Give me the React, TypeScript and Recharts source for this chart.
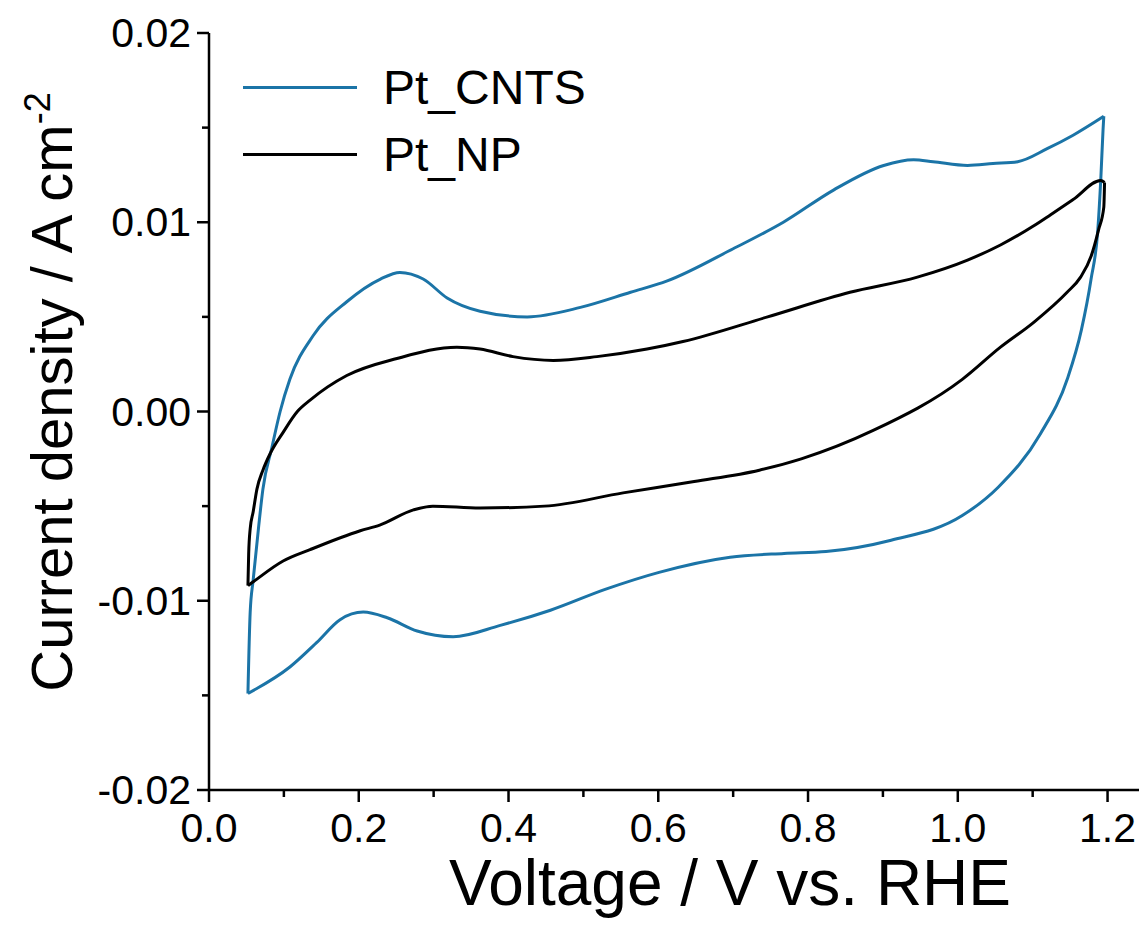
import React from "react";
import { LineChart, Line, XAxis, YAxis, Legend } from "recharts";

// Pt_CNTS: anodic sweep (0.05 -> 1.2 V) and cathodic sweep (1.2 -> 0.05 V)
const cntsAnodicV = [
	0.052, 0.055, 0.059, 0.066, 0.072, 0.084, 0.095, 0.108, 0.139, 0.184, 0.229, 0.255, 0.286, 0.318,
	0.362, 0.425, 0.496, 0.563, 0.612, 0.7, 0.767, 0.834, 0.901, 0.941, 0.967, 1.013, 1.047, 1.08,
	1.12, 1.154, 1.195,
];
const cntsAnodicJ = [
	-0.0149, -0.0106, -0.0089, -0.0062, -0.0041, -0.0019, 0.0, 0.0017, 0.004, 0.0058, 0.007, 0.00735,
	0.007, 0.006, 0.0053, 0.005, 0.0055, 0.0063, 0.0069, 0.0086, 0.01, 0.0117, 0.013, 0.0133, 0.0132,
	0.013, 0.0131, 0.0132, 0.0139, 0.0146, 0.0156,
];
const cntsCathodicV = [
	1.195, 1.194, 1.191, 1.187, 1.178, 1.165, 1.147, 1.11, 1.054, 1.006, 0.911, 0.824, 0.768, 0.696,
	0.601, 0.529, 0.456, 0.389, 0.326, 0.278, 0.238, 0.206, 0.175, 0.144, 0.108, 0.052,
];
const cntsCathodicJ = [
	0.0156, 0.0149, 0.0123, 0.0096, 0.007, 0.0043, 0.0018, -0.0012, -0.004, -0.0055, -0.0068, -0.0074,
	-0.0075, -0.0077, -0.0085, -0.0094, -0.0105, -0.0113, -0.0119, -0.0116, -0.0109, -0.0106, -0.011,
	-0.0122, -0.0135, -0.0149,
];

// Pt_NP
const npAnodicV = [
	0.052, 0.053, 0.055, 0.059, 0.064, 0.072, 0.082, 0.099, 0.118, 0.135, 0.184, 0.251, 0.331, 0.362,
	0.406, 0.46, 0.518, 0.585, 0.633, 0.746, 0.856, 0.946, 1.013, 1.057, 1.101, 1.124, 1.154, 1.191,
	1.196,
];
const npAnodicJ = [
	-0.0092, -0.0075, -0.0062, -0.0053, -0.0041, -0.0031, -0.0022, -0.0011, 0.0, 0.0006, 0.0019,
	0.0028, 0.0034, 0.0033, 0.0029, 0.0027, 0.0029, 0.0033, 0.0037, 0.005, 0.0063, 0.0071, 0.008,
	0.0088, 0.0098, 0.0104, 0.0112, 0.0122, 0.0121,
];
const npCathodicV = [
	1.196, 1.195, 1.188, 1.178, 1.164, 1.146, 1.101, 1.057, 1.006, 0.887, 0.791, 0.735, 0.648, 0.553,
	0.448, 0.362, 0.299, 0.273, 0.228, 0.202, 0.135, 0.099, 0.059, 0.052,
];
const npCathodicJ = [
	0.0121, 0.0108, 0.0096, 0.0082, 0.0071, 0.0063, 0.0047, 0.0034, 0.0017, -0.001, -0.0025, -0.0031,
	-0.0037, -0.0043, -0.005, -0.0051, -0.005, -0.0052, -0.006, -0.0063, -0.0073, -0.0079, -0.009,
	-0.0092,
];

const xTicks = [0, 0.1, 0.2, 0.3, 0.4, 0.5, 0.6, 0.7, 0.8, 0.9, 1.0, 1.1, 1.2];
const yTicks = [-0.02, -0.015, -0.01, -0.005, 0, 0.005, 0.01, 0.015, 0.02];

const seriesNames = ["Pt_CNTS", "Pt_NP"];
const seriesColors = ["#1b74a7", "#000000"];

const FONT = "'Liberation Sans', Arial, sans-serif";

const toPoints = (vs: number[], js: number[]) => vs.map((v, i) => ({ v, j: js[i] }));
const branches = [
	{ key: "cnts-a", data: toPoints(cntsAnodicV, cntsAnodicJ), color: seriesColors[0] },
	{ key: "cnts-c", data: toPoints(cntsCathodicV, cntsCathodicJ), color: seriesColors[0] },
	{ key: "np-a", data: toPoints(npAnodicV, npAnodicJ), color: seriesColors[1] },
	{ key: "np-c", data: toPoints(npCathodicV, npCathodicJ), color: seriesColors[1] },
];

const XTick = (props: any) => {
	const { x, y, payload } = props;
	const val = payload.value;
	const major = Math.abs(val * 5 - Math.round(val * 5)) < 1e-6;
	return (
		<g>
			<line x1={x} x2={x} y1={y} y2={y + (major ? 12 : 7)} stroke="#000" strokeWidth={2.5} />
			{major && (
				<text x={x} y={y + 52} textAnchor="middle" fontSize={41} fontFamily={FONT} fill="#000">
					{val.toFixed(1)}
				</text>
			)}
		</g>
	);
};

const YTick = (props: any) => {
	const { x, y, payload } = props;
	const val = payload.value;
	const major = Math.abs(val * 100 - Math.round(val * 100)) < 1e-6;
	return (
		<g>
			<line x1={x} x2={x - (major ? 12 : 7)} y1={y} y2={y} stroke="#000" strokeWidth={2.5} />
			{major && (
				<text x={x - 18} y={y + 14} textAnchor="end" fontSize={41} fontFamily={FONT} fill="#000">
					{val.toFixed(2)}
				</text>
			)}
		</g>
	);
};

const LegendBox = () => (
	<div style={{ fontFamily: FONT, fontSize: 48, lineHeight: "67px" }}>
		{seriesNames.map((name, i) => (
			<div key={name} style={{ display: "flex", alignItems: "center" }}>
				<div style={{ width: 114, height: 3, background: seriesColors[i], marginRight: 26 }} />
				<span>{name}</span>
			</div>
		))}
	</div>
);

export default function App() {
	return (
		<div style={{ position: "absolute", left: 0, top: 0, background: "#fff" }}>
			<LineChart
				width={1142}
				height={942}
				margin={{ top: 33, right: 3, bottom: 92, left: 109 }}
			>
				<XAxis
					dataKey="v"
					type="number"
					domain={[0, 1.242]}
					ticks={xTicks}
					interval={0}
					allowDataOverflow
					height={60}
					tickSize={0}
					tickMargin={0}
					tickLine={false}
					tick={XTick}
					axisLine={{ stroke: "#000", strokeWidth: 2.5 }}
					label={{
						content: () => (
							<text x={730} y={905} textAnchor="middle" fontSize={64} fontFamily={FONT} fill="#000">
								Voltage / V vs. RHE
							</text>
						),
					}}
				/>
				<XAxis
					xAxisId="top"
					orientation="top"
					type="number"
					domain={[0, 1.242]}
					height={0}
					tick={false}
					tickLine={false}
					axisLine={{ stroke: "#000", strokeWidth: 2.5 }}
				/>
				<YAxis
					dataKey="j"
					type="number"
					domain={[-0.02, 0.02]}
					ticks={yTicks}
					interval={0}
					allowDataOverflow
					width={100}
					tickSize={0}
					tickMargin={0}
					tickLine={false}
					tick={YTick}
					axisLine={{ stroke: "#000", strokeWidth: 2.5 }}
					label={{
						content: () => (
							<text
								transform="translate(72,392) rotate(-90)"
								textAnchor="middle"
								fontSize={58}
								fontFamily={FONT}
								fill="#000"
							>
								Current density / A cm
								<tspan dy={-22} fontSize={36}>
									-2
								</tspan>
							</text>
						),
					}}
				/>
				<YAxis
					yAxisId="right"
					orientation="right"
					type="number"
					domain={[-0.02, 0.02]}
					width={0}
					tick={false}
					tickLine={false}
					axisLine={{ stroke: "#000", strokeWidth: 2.5 }}
				/>
				<Legend
					layout="vertical"
					align="center"
					verticalAlign="middle"
					content={LegendBox}
					wrapperStyle={{ position: "absolute", left: 243, top: 54, width: 420 }}
				/>
				{branches.map((b) => (
					<Line
						key={b.key}
						data={b.data}
						dataKey="j"
						stroke={b.color}
						strokeWidth={3}
						dot={false}
						type="monotone"
						isAnimationActive={false}
					/>
				))}
			</LineChart>
		</div>
	);
}
